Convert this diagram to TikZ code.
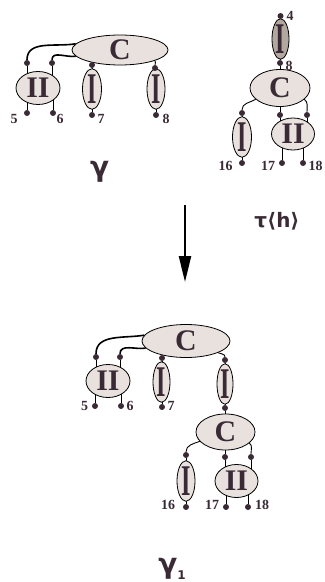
\documentclass[tikz,border=0pt]{standalone}
\usepackage{fontspec}
\usepackage{graphicx}
\setmainfont{Liberation Serif}
\newfontfamily\greekfont{DejaVu Sans}
\usetikzlibrary{shapes.geometric,arrows.meta,backgrounds}
\definecolor{cellfill}{HTML}{E8E1DE}
\definecolor{darkfill}{HTML}{B3A89F}
\definecolor{ink}{HTML}{3A2A36}
\newcommand{\cC}{\fontsize{30}{30}\selectfont\bfseries C}
\newcommand{\cI}{\scalebox{0.55}[1]{\fontsize{44}{44}\selectfont\bfseries I}}
\newcommand{\cII}{\fontsize{30}{30}\selectfont\bfseries II}

\begin{document}
\begin{tikzpicture}[x=1bp,y=1bp,
    cell/.style={ellipse,draw,fill=cellfill,inner sep=0pt,text=ink,line width=0.8bp},
    port/.style={circle,fill=ink,inner sep=0pt,minimum size=6bp},
    num/.style={text=ink,inner sep=0pt,font=\fontsize{14}{14}\selectfont\bfseries},
    greek/.style={text=ink,inner sep=0pt,font=\greekfont\bfseries\fontsize{20}{20}\selectfont},
    bond/.style={line width=1.6bp},
    wire/.style={line width=0.9bp}]
        \useasboundingbox (0,0) rectangle (324,-582);

        % gamma
        \node[cell,minimum width=96bp,minimum height=30bp] (cA) at (120,-50) {\cC};
        \node[cell,minimum width=44bp,minimum height=33bp] (iiA) at (38,-88) {\cII};
        \node[cell,minimum width=19bp,minimum height=38bp] (iA) at (92,-89) {\cI};
        \node[cell,minimum width=18bp,minimum height=38bp] (jA) at (156,-89) {\cI};
        \node[port] (tA1) at (27,-63) {};
        \node[port] (tA2) at (52,-63) {};
        \node[port] (tA3) at (92,-65) {};
        \node[port] (tA4) at (155,-68) {};
        \node[port] (A5) at (27,-113) {};
        \node[port] (A6) at (53,-113) {};
        \node[port] (A7) at (92,-115) {};
        \node[port] (A8) at (156,-115) {};
        \node[num] (nA5) at (14,-119) {5};
        \node[num] (nA6) at (60,-119) {6};
        \node[num] (nA7) at (101,-119) {7};
        \node[num] (nA8) at (166,-119) {8};
        \node[greek,font=\greekfont\bfseries\fontsize{28}{28}\selectfont] (g) at (99.5,-172) {γ};

        % tau<h>
        \node[cell,fill=darkfill,minimum width=17bp,minimum height=37bp] (iB0) at (280.5,-39) {\cI};
        \node[cell,minimum width=60bp,minimum height=37bp] (cB) at (280,-88) {\cC};
        \node[cell,minimum width=19bp,minimum height=39bp] (iB) at (242,-137) {\cI};
        \node[cell,minimum width=43bp,minimum height=32bp] (iiB) at (293,-134) {\cII};
        \node[port] (B4) at (280.5,-16) {};
        \node[port] (B8) at (280,-63) {};
        \node[port] (tB1) at (242,-113) {};
        \node[port] (tB2) at (280,-115) {};
        \node[port] (tB3) at (307,-115) {};
        \node[port] (B16) at (242,-163) {};
        \node[port] (B17) at (282,-163) {};
        \node[port] (B18) at (303,-163) {};
        \node[num] (nB4) at (290,-16) {4};
        \node[num] (nB8) at (289,-66) {8};
        \node[num] (nB16) at (225.5,-166) {16};
        \node[num] (nB17) at (268,-166) {17};
        \node[num] (nB18) at (315.5,-166) {18};
        \node[greek] (t) at (277,-221) {τ⟨h⟩};

        \coordinate (arTop) at (185,-205);
        \coordinate (arBot) at (185,-282);
        \draw[line width=2.4bp,-{Triangle[length=26bp,width=12bp]}] (arTop) -- (arBot);

        % gamma_1
        \node[cell,minimum width=88bp,minimum height=33bp] (cC) at (186,-341) {\cC};
        \node[cell,minimum width=44bp,minimum height=33bp] (iiC) at (108,-381) {\cII};
        \node[cell,minimum width=17bp,minimum height=37bp] (iC) at (161.5,-382) {\cI};
        \node[cell,minimum width=16bp,minimum height=38bp] (jC) at (225,-384) {\cI};
        \node[cell,minimum width=59bp,minimum height=36bp] (cD) at (225.5,-432) {\cC};
        \node[cell,minimum width=18bp,minimum height=38bp] (iD) at (186,-481) {\cI};
        \node[cell,minimum width=43bp,minimum height=33bp] (iiD) at (236.5,-481) {\cII};
        \node[port] (tC1) at (96,-357) {};
        \node[port] (tC2) at (120,-357) {};
        \node[port] (tC3) at (162,-358) {};
        \node[port] (tC4) at (225,-360) {};
        \node[port] (C5) at (95,-406) {};
        \node[port] (C6) at (121,-406) {};
        \node[port] (C7) at (162,-407) {};
        \node[port] (C8) at (225,-408) {};
        \node[port] (tD1) at (186,-455) {};
        \node[port] (tD2) at (225,-457) {};
        \node[port] (tD3) at (251,-457) {};
        \node[port] (D16) at (186,-507) {};
        \node[port] (D17) at (226,-507) {};
        \node[port] (D18) at (248,-507) {};
        \node[num] (nC5) at (84.5,-406) {5};
        \node[num] (nC6) at (130,-406) {6};
        \node[num] (nC7) at (171,-406) {7};
        \node[num] (nD16) at (168,-505) {16};
        \node[num] (nD17) at (212,-505) {17};
        \node[num] (nD18) at (262,-505) {18};
        \node[greek,font=\greekfont\bfseries\fontsize{28}{28}\selectfont] (g1) at (172,-569) {γ\raisebox{-6bp}{\fontsize{12}{12}\selectfont 1}};

        \begin{scope}[on background layer]
        \draw[bond] (cA.172) to[out=190,in=90] (tA1);
        \draw[bond] (cA.188) to[out=190,in=90] (tA2);
        \draw[wire] (cA.-17) to[out=-30,in=90] (tA4);
        \draw[wire] (tA3) -- (tA3 |- cA.center);
        \draw[wire] (tA1) -- (tA1 |- iiA.center); \draw[wire] (tA2) -- (tA2 |- iiA.center);
        \draw[wire] (A5) -- (A5 |- iiA.center); \draw[wire] (A6) -- (A6 |- iiA.center);
        \draw[wire] (tA3) -- (tA3 |- iA.center); \draw[wire] (A7) -- (A7 |- iA.center);
        \draw[wire] (tA4) -- (tA4 |- jA.center); \draw[wire] (A8) -- (A8 |- jA.center);

        \draw[wire] (cB.205) to[out=210,in=90] (tB1);
        \draw[wire] (cB.-25) to[out=-35,in=90] (tB3);
        \draw[wire] (B4) -- (B4 |- iB0.center); \draw[wire] (B8) -- (B8 |- iB0.center);
        \draw[wire] (B8) -- (B8 |- cB.center); \draw[wire] (tB2) -- (tB2 |- cB.center);
        \draw[wire] (tB1) -- (tB1 |- iB.center); \draw[wire] (B16) -- (B16 |- iB.center);
        \draw[wire] (tB2) -- (tB2 |- iiB.center); \draw[wire] (tB3) -- (tB3 |- iiB.center);
        \draw[wire] (B17) -- (B17 |- iiB.center); \draw[wire] (B18) -- (B18 |- iiB.center);

        \draw[bond] (cC.172) to[out=190,in=90] (tC1);
        \draw[bond] (cC.190) to[out=190,in=90] (tC2);
        \draw[wire] (cC.-20) to[out=-30,in=90] (tC4);
        \draw[wire] (tC3) -- (tC3 |- cC.center);
        \draw[wire] (tC1) -- (tC1 |- iiC.center); \draw[wire] (tC2) -- (tC2 |- iiC.center);
        \draw[wire] (C5) -- (C5 |- iiC.center); \draw[wire] (C6) -- (C6 |- iiC.center);
        \draw[wire] (tC3) -- (tC3 |- iC.center); \draw[wire] (C7) -- (C7 |- iC.center);
        \draw[wire] (tC4) -- (tC4 |- jC.center); \draw[wire] (C8) -- (C8 |- jC.center);
        \draw[wire] (C8) -- (C8 |- cD.center);

        \draw[wire] (cD.200) to[out=200,in=90] (tD1);
        \draw[wire] (cD.-25) to[out=-35,in=90] (tD3);
        \draw[wire] (tD2) -- (tD2 |- cD.center);
        \draw[wire] (tD1) -- (tD1 |- iD.center); \draw[wire] (D16) -- (D16 |- iD.center);
        \draw[wire] (tD2) -- (tD2 |- iiD.center); \draw[wire] (tD3) -- (tD3 |- iiD.center);
        \draw[wire] (D17) -- (D17 |- iiD.center); \draw[wire] (D18) -- (D18 |- iiD.center);
        \end{scope}
      \end{tikzpicture}
\end{document}
